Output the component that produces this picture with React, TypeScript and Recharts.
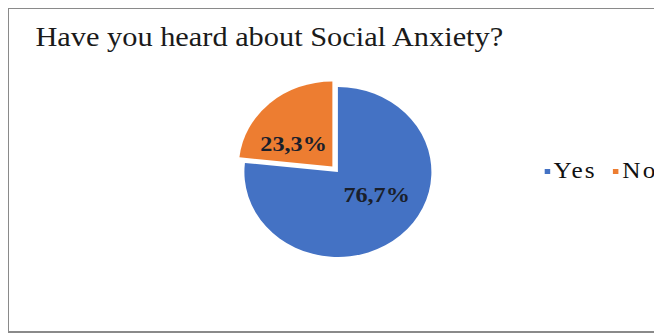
import { PieChart, Pie, Cell } from "recharts";

const answers = ["Yes", "No"];
const shares = [76.7, 23.3];
const sliceColors = ["#4472C4", "#ED7D31"];

const chartData = answers.map((name, i) => ({ name, value: shares[i] }));

const RADIAN = Math.PI / 180;
// the original picture is stretched sideways a little
const STRETCH = 1.1;
const PIE_CX = 294;
const PIE_CY = 158;
const PIE_R = 85;
const EXPLODE = 7.5;

// mid angle of the "No" slice, Recharts angles (clockwise from 12 o'clock)
const noMid = 90 - (shares[0] + shares[1] / 2) * 3.6;
const offX = EXPLODE * Math.cos(noMid * RADIAN);
const offY = -EXPLODE * Math.sin(noMid * RADIAN);

const fmt = (v: number) => `${v.toFixed(1).replace(".", ",")}%`;

function makeLabel(show: number) {
  return (props: any) => {
    const { cx, cy, midAngle, outerRadius, index, value } = props;
    if (index !== show) return null;
    const x = cx + outerRadius * 0.62 * Math.cos(-midAngle * RADIAN);
    const y = cy + outerRadius * 0.36 * Math.sin(-midAngle * RADIAN);
    return (
      <text
        x={x}
        y={y}
        textAnchor="middle"
        dominantBaseline="central"
        fill="#1a1f2b"
        fontSize={22}
        fontWeight="bold"
        fontFamily="'Liberation Serif', serif"
      >
        {fmt(value)}
      </text>
    );
  };
}

export default function App() {
  return (
    <div
      style={{
        position: "relative",
        width: 653,
        height: 322,
        overflow: "hidden",
        borderTop: "1px solid #8a8a8a",
        borderLeft: "1px solid #8a8a8a",
        borderBottom: "2px solid #8a8a8a",
        background: "#fff",
      }}
    >
      <div
        style={{
          position: "absolute",
          left: 0,
          top: 0,
          width: 600,
          height: 322,
          transform: `scaleX(${STRETCH})`,
          transformOrigin: "0 0",
        }}
      >
        <div
          style={{
            position: "absolute",
            left: 24,
            top: 12,
            fontFamily: "'Liberation Serif', serif",
            fontSize: 27.6,
            color: "#1a1a1a",
            whiteSpace: "nowrap",
          }}
        >
          Have you heard about Social Anxiety?
        </div>
        <PieChart width={600} height={322}>
          <Pie
            data={chartData}
            dataKey="value"
            nameKey="name"
            cx={PIE_CX}
            cy={PIE_CY}
            outerRadius={PIE_R}
            startAngle={90}
            endAngle={-270}
            stroke="none"
            labelLine={false}
            label={makeLabel(0)}
            isAnimationActive={false}
          >
            {chartData.map((d, i) => (
              <Cell key={d.name} fill={i === 0 ? sliceColors[0] : "transparent"} />
            ))}
          </Pie>
          <Pie
            data={chartData}
            dataKey="value"
            nameKey="name"
            cx={PIE_CX + offX}
            cy={PIE_CY + offY}
            outerRadius={PIE_R}
            startAngle={90}
            endAngle={-270}
            stroke="none"
            labelLine={false}
            label={makeLabel(1)}
            legendType="none"
            isAnimationActive={false}
          >
            {chartData.map((d, i) => (
              <Cell key={d.name} fill={i === 1 ? sliceColors[1] : "transparent"} />
            ))}
          </Pie>
        </PieChart>
        <div
          style={{
            position: "absolute",
            left: 487,
            top: 150,
            height: 24,
            lineHeight: "24px",
            display: "flex",
            alignItems: "center",
            fontFamily: "'Liberation Serif', serif",
            fontSize: 23,
            letterSpacing: 2,
            color: "#111",
            whiteSpace: "nowrap",
          }}
        >
          {answers.map((a, i) => (
            <span key={a} style={{ display: "flex", alignItems: "center", marginRight: 15 }}>
              <span
                style={{
                  display: "inline-block",
                  width: 5,
                  height: 5,
                  background: sliceColors[i],
                  marginRight: 3,
                }}
              />
              {a}
            </span>
          ))}
        </div>
      </div>
    </div>
  );
}
